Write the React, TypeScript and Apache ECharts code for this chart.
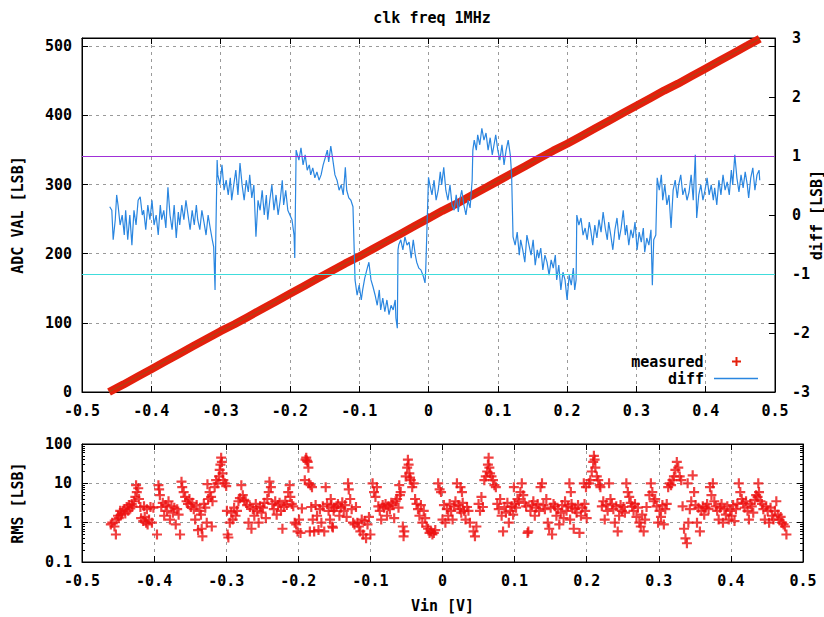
import React, { useEffect, useRef } from "react";
import * as echarts from "echarts";

const FONT = "DejaVu Sans Mono";

const titleText = "clk freq 1MHz";
const vinTicks = { min: -0.5, max: 0.5, step: 0.1 };
const adcRange = { min: 0, max: 512, step: 100 };
const diffRange = { min: -3, max: 3, step: 1 };
const rmsRange = { min: 0.1, max: 100 };
const diffLimits = [1, -1];

// measured ADC code vs Vin
const measuredPoints: [number, number][] = [
  [-0.461, 0], [-0.44, 11], [-0.42, 22], [-0.4, 33], [-0.38, 44], [-0.36, 55], [-0.34, 66],
  [-0.32, 77], [-0.3, 88], [-0.28, 98], [-0.26, 109], [-0.24, 120], [-0.22, 131], [-0.2, 142],
  [-0.18, 153], [-0.16, 164], [-0.14, 175], [-0.12, 186], [-0.1, 196], [-0.08, 207], [-0.06, 218],
  [-0.04, 229], [-0.02, 240], [0, 251], [0.02, 262], [0.04, 272], [0.06, 283], [0.08, 294],
  [0.1, 305], [0.12, 316], [0.14, 327], [0.16, 338], [0.18, 349], [0.2, 359], [0.22, 370],
  [0.24, 381], [0.26, 392], [0.28, 403], [0.3, 414], [0.32, 425], [0.34, 436], [0.36, 446],
  [0.38, 457], [0.4, 468], [0.42, 479], [0.44, 490], [0.46, 501], [0.478, 511],
];

// diff [LSB] vs Vin
const diffPoints: [number, number][] = [
  [-0.46, 0.14], [-0.457, 0.08], [-0.455, -0.42], [-0.452, -0.08], [-0.45, 0.34], [-0.448, 0.17],
  [-0.445, -0.17], [-0.442, 0.0], [-0.439, -0.34], [-0.437, 0.08], [-0.434, -0.42], [-0.431, 0.0],
  [-0.428, -0.51], [-0.425, 0.08], [-0.422, -0.17], [-0.419, 0.25], [-0.416, 0.31], [-0.413, 0.0],
  [-0.411, 0.08], [-0.408, -0.25], [-0.405, 0.17], [-0.402, -0.08], [-0.399, 0.25], [-0.396, -0.17],
  [-0.393, 0.0], [-0.39, -0.34], [-0.387, 0.17], [-0.385, -0.08], [-0.382, 0.08], [-0.379, -0.22],
  [-0.376, 0.47], [-0.373, 0.0], [-0.37, -0.25], [-0.367, 0.17], [-0.364, -0.39], [-0.361, 0.05],
  [-0.359, -0.17], [-0.356, 0.17], [-0.353, -0.08], [-0.35, 0.25], [-0.347, 0.0], [-0.344, -0.25],
  [-0.341, 0.08], [-0.338, -0.17], [-0.335, 0.17], [-0.333, -0.08], [-0.33, -0.25], [-0.327, 0.08],
  [-0.324, -0.12], [-0.321, -0.34], [-0.318, 0.0], [-0.315, -0.22], [-0.312, -0.42], [-0.31, -0.54],
  [-0.308, -1.27], [-0.307, -0.42], [-0.305, 0.93],
  [-0.304, 0.68], [-0.301, 0.51], [-0.298, 0.85], [-0.295, 0.42], [-0.292, 0.59], [-0.289, 0.34],
  [-0.286, 0.63], [-0.284, 0.25], [-0.281, 0.51], [-0.278, 0.76], [-0.275, 0.34], [-0.272, 0.88],
  [-0.269, 0.51], [-0.266, 0.25], [-0.263, 0.59], [-0.26, 0.39], [-0.258, 0.68], [-0.255, 0.29],
  [-0.252, 0.51], [-0.249, -0.37], [-0.246, 0.25], [-0.243, 0.08], [-0.24, 0.42], [-0.237, 0.0],
  [-0.234, 0.34], [-0.232, -0.08], [-0.229, 0.25], [-0.226, 0.51], [-0.223, 0.08], [-0.22, 0.34],
  [-0.217, 0.0], [-0.214, 0.25], [-0.211, 0.59], [-0.209, 0.17], [-0.206, 0.42], [-0.203, 0.08],
  [-0.2, 0.0], [-0.197, -0.08], [-0.194, -0.34], [-0.193, -0.73], [-0.191, 1.1],
  [-0.19, 1.1], [-0.187, 0.93], [-0.184, 1.14], [-0.181, 0.85], [-0.178, 1.02], [-0.175, 0.76],
  [-0.172, 0.85], [-0.17, 0.68], [-0.167, 0.8], [-0.164, 0.63], [-0.161, 0.73], [-0.158, 0.59],
  [-0.155, 0.68], [-0.152, 0.85], [-0.149, 0.97], [-0.146, 1.1], [-0.144, 0.9], [-0.141, 1.17],
  [-0.138, 0.93], [-0.135, 0.68], [-0.132, 0.59], [-0.129, 0.42], [-0.126, 0.51], [-0.123, 0.34],
  [-0.12, 0.81], [-0.118, 0.42], [-0.115, 0.29], [-0.112, 0.25], [-0.109, 0.14],
  [-0.107, -0.68], [-0.106, -1.1], [-0.103, -1.36], [-0.1, -1.19], [-0.097, -1.44], [-0.095, -1.27],
  [-0.092, -1.07], [-0.089, -0.93], [-0.086, -0.8], [-0.083, -1.1], [-0.08, -1.22], [-0.077, -1.36],
  [-0.074, -1.53], [-0.071, -1.27], [-0.069, -1.61], [-0.066, -1.41], [-0.063, -1.64], [-0.06, -1.44],
  [-0.057, -1.69], [-0.054, -1.53], [-0.051, -1.61], [-0.048, -1.44], [-0.047, -1.75], [-0.045, -1.92],
  [-0.044, -0.59],
  [-0.043, -0.51], [-0.04, -0.42], [-0.037, -0.59], [-0.034, -0.37], [-0.031, -0.51], [-0.028, -0.46],
  [-0.025, -0.73], [-0.022, -0.42], [-0.019, -0.68], [-0.017, -0.8], [-0.014, -0.9], [-0.011, -0.93],
  [-0.008, -1.02], [-0.005, -1.15], [-0.004, -0.93],
  [0.0, 0.64], [0.002, 0.51], [0.005, 0.34], [0.008, 0.59], [0.011, 0.25], [0.014, 0.42],
  [0.017, 0.73], [0.019, 0.51], [0.022, 0.81], [0.025, 0.42], [0.028, 0.25], [0.031, 0.51],
  [0.034, 0.17], [0.037, 0.08], [0.04, 0.34], [0.043, 0.05], [0.045, 0.25], [0.048, 0.42],
  [0.051, 0.17], [0.054, 0.0], [0.057, 0.25], [0.06, 0.12], [0.063, 0.59], [0.064, 1.1],
  [0.066, 1.27], [0.069, 1.1], [0.071, 1.36], [0.074, 1.19], [0.077, 1.47], [0.08, 1.27],
  [0.083, 1.39], [0.086, 1.1], [0.089, 1.31], [0.092, 1.02], [0.095, 1.22], [0.097, 1.36],
  [0.1, 1.1], [0.103, 0.93], [0.106, 1.19], [0.109, 0.85], [0.112, 1.1], [0.115, 1.27],
  [0.118, 1.02], [0.119, 0.85], [0.12, 0.64],
  [0.122, -0.37], [0.125, -0.51], [0.128, -0.29], [0.131, -0.68], [0.133, -0.42], [0.136, -0.59],
  [0.139, -0.8], [0.142, -0.34], [0.145, -0.51], [0.148, -0.68], [0.151, -0.42], [0.154, -0.85],
  [0.157, -0.59], [0.159, -0.73], [0.162, -0.56], [0.165, -0.93], [0.168, -0.68], [0.171, -0.8],
  [0.174, -1.02], [0.177, -0.76], [0.18, -0.9], [0.183, -0.68], [0.185, -1.1], [0.188, -0.85],
  [0.191, -1.27], [0.194, -0.97], [0.197, -1.1], [0.2, -1.44], [0.203, -1.02], [0.206, -1.19],
  [0.209, -0.9], [0.211, -1.27], [0.213, -1.1],
  [0.214, 0.0], [0.217, -0.17], [0.22, -0.05], [0.223, -0.34], [0.226, -0.22], [0.229, -0.42],
  [0.232, -0.12], [0.234, -0.25], [0.237, -0.51], [0.24, -0.17], [0.243, -0.39], [0.246, -0.08],
  [0.249, -0.29], [0.252, 0.05], [0.255, -0.22], [0.258, -0.42], [0.26, -0.12], [0.263, -0.34],
  [0.266, -0.59], [0.269, -0.25], [0.272, -0.05], [0.275, -0.42], [0.278, -0.22], [0.281, 0.08],
  [0.284, -0.34], [0.286, -0.17], [0.289, -0.51], [0.292, -0.25], [0.295, -0.39], [0.298, -0.12],
  [0.301, -0.59], [0.304, -0.29], [0.307, -0.46], [0.31, -0.22], [0.312, -0.63], [0.315, -0.39],
  [0.318, -0.51], [0.321, -0.25], [0.323, -1.19], [0.325, -0.42], [0.328, -0.34],
  [0.33, 0.63], [0.333, 0.42], [0.336, 0.68], [0.338, 0.25], [0.341, 0.51], [0.344, 0.17],
  [0.347, 0.34], [0.35, -0.22], [0.353, 0.42], [0.356, 0.59], [0.359, 0.29], [0.361, 0.51],
  [0.364, 0.68], [0.367, 0.34], [0.37, 0.46], [0.373, 0.25], [0.376, 0.39], [0.379, 0.68],
  [0.382, 0.25], [0.385, 1.02], [0.387, -0.05], [0.39, 0.34], [0.393, 0.51], [0.396, 0.25],
  [0.399, 0.42], [0.402, 0.63], [0.405, 0.34], [0.408, 0.51], [0.411, 0.25], [0.413, 0.46],
  [0.416, 0.17], [0.419, 0.59], [0.422, 0.34], [0.425, 0.68], [0.428, 0.42], [0.431, 0.56],
  [0.434, 0.34], [0.437, 0.76], [0.439, 0.51], [0.442, 1.02], [0.445, 0.63], [0.448, 0.39],
  [0.451, 0.68], [0.454, 0.46], [0.457, 0.73], [0.46, 0.51], [0.462, 0.29], [0.465, 0.63],
  [0.468, 0.8], [0.471, 0.42], [0.474, 0.68], [0.477, 0.76], [0.478, 0.59],
];

// RMS [LSB] vs Vin
const rmsPoints: [number, number][] = [
  [-0.46, 0.9], [-0.458, 1.0], [-0.455, 0.8], [-0.453, 0.5], [-0.452, 1.2], [-0.45, 1.5],
  [-0.449, 1.3], [-0.447, 2.0], [-0.446, 1.6], [-0.444, 1.8], [-0.442, 2.2], [-0.44, 1.7],
  [-0.438, 2.5], [-0.436, 2.0], [-0.435, 2.8], [-0.433, 2.3], [-0.431, 3.0], [-0.43, 2.6],
  [-0.428, 3.5], [-0.426, 4.5], [-0.425, 9], [-0.424, 6], [-0.422, 7.5], [-0.421, 4], [-0.419, 2.5],
  [-0.418, 1.3], [-0.415, 1.1], [-0.414, 2.6], [-0.413, 1.4], [-0.411, 1.0], [-0.41, 2.2],
  [-0.409, 0.9], [-0.407, 1.2], [-0.405, 2.5], [-0.403, 1.0], [-0.401, 2.4], [-0.396, 0.5],
  [-0.394, 9], [-0.393, 7], [-0.392, 5], [-0.39, 2.5], [-0.388, 3.2], [-0.386, 1.5], [-0.384, 2.8],
  [-0.382, 2.0], [-0.38, 3.5], [-0.378, 1.2], [-0.376, 2.6], [-0.374, 1.8], [-0.372, 2.4],
  [-0.37, 0.9], [-0.368, 2.2], [-0.366, 1.6], [-0.364, 0.5], [-0.362, 11], [-0.361, 8], [-0.359, 6],
  [-0.357, 4.5], [-0.355, 3.5], [-0.353, 3], [-0.351, 4], [-0.349, 2.5], [-0.347, 3.2],
  [-0.345, 2.2], [-0.343, 1.2], [-0.341, 2.8], [-0.339, 0.65], [-0.337, 2.0], [-0.335, 1.6],
  [-0.334, 0.7], [-0.333, 0.45], [-0.331, 3.0], [-0.329, 2.4], [-0.327, 1.0], [-0.326, 9.5],
  [-0.325, 4.0], [-0.323, 6], [-0.321, 4.5], [-0.32, 0.8], [-0.319, 3.5], [-0.316, 8], [-0.314, 12],
  [-0.312, 10], [-0.31, 15], [-0.309, 22], [-0.308, 30], [-0.307, 45], [-0.306, 35], [-0.305, 18],
  [-0.304, 12], [-0.302, 10], [-0.3, 8.5], [-0.299, 2.0], [-0.298, 0.5], [-0.297, 0.42],
  [-0.295, 1.0], [-0.293, 1.8], [-0.291, 1.2], [-0.289, 2.4], [-0.287, 1.5], [-0.285, 2.0],
  [-0.283, 3.5], [-0.281, 4.2], [-0.279, 9], [-0.277, 5], [-0.275, 3.8], [-0.273, 3.5], [-0.271, 2.8],
  [-0.269, 1.0], [-0.267, 2.5], [-0.265, 0.7], [-0.263, 2.2], [-0.261, 1.5], [-0.259, 3.0],
  [-0.257, 2.0], [-0.255, 1.0], [-0.253, 2.6], [-0.251, 1.8], [-0.249, 2.4], [-0.247, 3.2],
  [-0.245, 1.3], [-0.243, 4.0], [-0.241, 6], [-0.24, 11], [-0.238, 8], [-0.236, 3.0], [-0.234, 2.2],
  [-0.232, 3.5], [-0.23, 1.6], [-0.228, 2.8], [-0.226, 3.2], [-0.224, 2.0], [-0.222, 0.7],
  [-0.22, 2.5], [-0.218, 3.6], [-0.216, 2.8], [-0.214, 6], [-0.212, 9], [-0.211, 4.5], [-0.209, 3.0],
  [-0.207, 2.6], [-0.205, 1.0], [-0.203, 0.9], [-0.201, 0.6], [-0.199, 1.2], [-0.197, 0.55],
  [-0.195, 2.3], [-0.191, 12], [-0.19, 40], [-0.189, 45], [-0.188, 38], [-0.187, 35], [-0.186, 25],
  [-0.185, 10], [-0.184, 0.6], [-0.183, 9], [-0.182, 2.5], [-0.181, 8], [-0.18, 1.2], [-0.178, 0.6],
  [-0.176, 2.8], [-0.174, 1.5], [-0.172, 0.65], [-0.17, 2.2], [-0.168, 1.0], [-0.166, 2.6],
  [-0.164, 0.6], [-0.162, 8], [-0.16, 3.0], [-0.158, 2.0], [-0.156, 1.2], [-0.155, 4], [-0.154, 2.8],
  [-0.153, 0.8], [-0.152, 0.75], [-0.151, 2.0], [-0.15, 2.4], [-0.147, 2.6], [-0.145, 3.0],
  [-0.143, 1.5], [-0.141, 2.4], [-0.139, 3.3], [-0.137, 2.0], [-0.135, 2.8], [-0.133, 1.4],
  [-0.131, 10], [-0.13, 7], [-0.128, 4], [-0.126, 2.2], [-0.124, 1.0], [-0.122, 0.9], [-0.12, 2.5],
  [-0.118, 1.0], [-0.116, 0.8], [-0.114, 0.6], [-0.112, 1.2], [-0.11, 0.5], [-0.108, 1.1],
  [-0.106, 0.4], [-0.104, 0.9], [-0.102, 1.4], [-0.1, 0.5], [-0.097, 10], [-0.095, 6], [-0.093, 4.5],
  [-0.091, 8], [-0.089, 2.6], [-0.087, 2.0], [-0.085, 1.2], [-0.083, 2.8], [-0.081, 2.4],
  [-0.079, 3.0], [-0.077, 1.5], [-0.075, 2.6], [-0.073, 2.2], [-0.071, 3.2], [-0.069, 2.8],
  [-0.067, 1.3], [-0.065, 3.5], [-0.063, 4.0], [-0.061, 2.4], [-0.06, 9], [-0.059, 5], [-0.058, 6],
  [-0.055, 0.8], [-0.054, 0.45], [-0.053, 0.6], [-0.051, 15], [-0.049, 25], [-0.048, 40],
  [-0.047, 30], [-0.046, 18], [-0.045, 14], [-0.044, 12], [-0.042, 8], [-0.04, 10], [-0.038, 4],
  [-0.036, 3], [-0.034, 2.2], [-0.032, 1.5], [-0.03, 2.8], [-0.028, 1.0], [-0.026, 2.0],
  [-0.024, 1.3], [-0.022, 0.8], [-0.02, 0.7], [-0.018, 0.55], [-0.016, 0.6], [-0.014, 0.5],
  [-0.012, 0.55], [-0.01, 0.65], [-0.006, 10], [-0.004, 7], [-0.002, 6], [0.0, 1.2], [0.002, 2.8],
  [0.004, 1.0], [0.006, 2.2], [0.008, 1.5], [0.01, 3.0], [0.012, 2.0], [0.014, 1.2], [0.016, 2.6],
  [0.018, 3.5], [0.02, 10], [0.022, 2.8], [0.024, 2.2], [0.025, 8], [0.026, 1.8], [0.027, 6],
  [0.028, 3.2], [0.03, 2.0], [0.032, 1.2], [0.034, 2.5], [0.036, 2.0], [0.038, 1.0], [0.043, 0.6],
  [0.045, 0.45], [0.047, 0.8], [0.05, 3.0], [0.052, 2.0], [0.054, 4.5], [0.056, 2.5], [0.058, 12],
  [0.06, 15], [0.062, 20], [0.063, 30], [0.064, 45], [0.065, 25], [0.066, 18], [0.068, 15],
  [0.07, 12], [0.072, 9], [0.074, 8], [0.076, 3.0], [0.078, 2.2], [0.08, 4.0], [0.082, 1.5],
  [0.084, 0.6], [0.086, 2.5], [0.088, 1.8], [0.09, 3.2], [0.092, 1.0], [0.094, 2.0], [0.096, 2.6],
  [0.098, 1.6], [0.099, 8], [0.1, 3.0], [0.102, 2.4], [0.104, 4], [0.106, 3.5], [0.108, 6],
  [0.11, 10], [0.112, 5], [0.114, 3.2], [0.116, 2.6], [0.118, 0.55], [0.119, 0.6], [0.122, 2.0],
  [0.124, 2.8], [0.126, 3.5], [0.128, 1.5], [0.13, 2.4], [0.132, 3.0], [0.134, 2.0], [0.136, 8],
  [0.138, 10], [0.14, 2.8], [0.142, 2.2], [0.144, 4], [0.146, 1.0], [0.148, 0.7], [0.15, 2.4],
  [0.152, 0.5], [0.154, 3.0], [0.156, 2.6], [0.158, 1.5], [0.16, 2.2], [0.162, 0.9], [0.164, 1.8],
  [0.166, 2.8], [0.168, 1.3], [0.17, 3.5], [0.172, 2.0], [0.174, 2.6], [0.176, 10], [0.177, 1.2],
  [0.178, 6], [0.179, 3.0], [0.18, 2.4], [0.182, 0.7], [0.184, 2.2], [0.186, 1.8], [0.188, 2.8],
  [0.19, 0.55], [0.192, 1.5], [0.194, 2.4], [0.196, 10], [0.197, 3.0], [0.198, 2.0], [0.199, 8],
  [0.2, 1.3], [0.203, 10], [0.205, 12], [0.207, 20], [0.209, 35], [0.21, 50], [0.211, 40],
  [0.212, 25], [0.214, 15], [0.216, 12], [0.218, 9], [0.219, 8], [0.221, 2.6], [0.223, 3.5],
  [0.225, 1.2], [0.227, 2.8], [0.229, 2.0], [0.231, 10], [0.233, 4], [0.235, 3.0], [0.237, 2.2],
  [0.239, 1.0], [0.241, 2.6], [0.243, 0.6], [0.245, 1.5], [0.247, 2.8], [0.249, 2.0], [0.251, 2.5],
  [0.253, 1.8], [0.255, 10], [0.257, 6], [0.259, 4.5], [0.261, 3.2], [0.263, 2.6], [0.265, 2.0],
  [0.267, 3.0], [0.269, 1.4], [0.271, 2.4], [0.273, 1.0], [0.275, 0.8], [0.277, 1.6], [0.279, 0.6],
  [0.281, 1.2], [0.283, 2.5], [0.287, 5], [0.289, 10], [0.291, 6], [0.293, 3.5], [0.295, 4],
  [0.297, 2.6], [0.299, 1.0], [0.301, 2.0], [0.303, 1.4], [0.305, 2.8], [0.307, 0.9], [0.309, 2.2],
  [0.311, 3.0], [0.313, 8], [0.315, 10], [0.317, 9], [0.319, 12], [0.321, 15], [0.323, 22],
  [0.325, 35], [0.327, 25], [0.329, 15], [0.331, 12], [0.333, 2.6], [0.335, 0.7], [0.337, 0.4],
  [0.339, 0.3], [0.34, 10], [0.341, 1.0], [0.343, 2.2], [0.345, 3.5], [0.347, 16], [0.349, 6],
  [0.351, 2.8], [0.353, 1.0], [0.355, 2.4], [0.357, 0.6], [0.359, 2.0], [0.361, 2.6], [0.363, 1.6],
  [0.365, 2.4], [0.367, 3.0], [0.369, 2.2], [0.371, 8], [0.373, 5], [0.375, 10], [0.377, 3.5],
  [0.379, 2.6], [0.381, 2.0], [0.383, 1.2], [0.385, 2.4], [0.387, 3.0], [0.389, 1.0], [0.391, 2.2],
  [0.393, 1.6], [0.395, 2.6], [0.397, 1.2], [0.399, 2.0], [0.401, 1.5], [0.403, 2.8], [0.405, 1.1],
  [0.407, 2.2], [0.409, 3.0], [0.411, 10], [0.413, 6], [0.415, 4], [0.417, 3.2], [0.419, 2.4],
  [0.421, 3.5], [0.423, 2.0], [0.425, 1.2], [0.427, 3.0], [0.429, 2.6], [0.431, 1.8], [0.433, 3.8],
  [0.435, 5], [0.437, 4.5], [0.438, 10], [0.439, 6], [0.441, 3.5], [0.443, 3.0], [0.445, 2.2],
  [0.447, 1.2], [0.449, 2.6], [0.451, 2.0], [0.453, 1.0], [0.455, 2.4], [0.457, 1.5], [0.459, 1.2],
  [0.461, 2.0], [0.463, 3.5], [0.465, 1.6], [0.467, 1.2], [0.469, 1.4], [0.471, 1.0], [0.473, 0.9],
  [0.475, 0.8], [0.477, 0.5],
];

const PLUS = "path://M3.9,0H6.1V3.9H10V6.1H6.1V10H3.9V6.1H0V3.9H3.9Z";

const labelStyle = {
  color: "#000",
  fontFamily: FONT,
  fontWeight: "bold" as const,
  fontSize: 15,
};

const gridLine = {
  show: true,
  lineStyle: { color: "#9a9a9a", type: [3, 4] as number[], width: 1 },
};

const fmtVin = (v: number) => String(Number(v.toFixed(1)));

const axisLineBlack = { show: true, onZero: false, lineStyle: { color: "#000", width: 1 } };
const tickIn = (length: number) => ({ show: true, inside: true, length, lineStyle: { color: "#000" } });

export default function App() {
  const ref = useRef<HTMLDivElement>(null);

  useEffect(() => {
    if (!ref.current) return;
    const chart = echarts.init(ref.current, undefined, { renderer: "svg" });

    const minorLog: number[] = [];
    for (let d = -1; d < 2; d++) {
      for (let k = 2; k <= 9; k++) minorLog.push(d + Math.log10(k));
    }

    const xBase = (gridIndex: number, position: "bottom" | "top", labels: boolean) => ({
      type: "value",
      gridIndex,
      position,
      min: vinTicks.min,
      max: vinTicks.max,
      interval: vinTicks.step,
      axisLine: axisLineBlack,
      axisTick: tickIn(6),
      axisLabel: {
        show: labels,
        margin: 11,
        formatter: fmtVin,
        ...labelStyle,
      },
      splitLine: labels ? gridLine : { show: false },
    });

    const option: any = {
      animation: false,
      backgroundColor: "#fff",
      title: {
        text: titleText,
        left: 427,
        top: 5,
        textAlign: "center",
        textStyle: { ...labelStyle },
      },
      legend: [
        {
          data: [{ name: "measured", icon: PLUS }],
          right: 78,
          top: 349,
          align: "right",
          itemWidth: 44,
          itemHeight: 9,
          selectedMode: false,
          itemStyle: { borderWidth: 0 },
          textStyle: { ...labelStyle, padding: [0, 6, 0, 0] },
        },
        {
          data: [{ name: "diff", icon: "rect" }],
          right: 61,
          top: 366,
          align: "right",
          itemWidth: 44,
          itemHeight: 1.5,
          selectedMode: false,
          itemStyle: { borderWidth: 0 },
          textStyle: { ...labelStyle, padding: [0, 5, 0, 0] },
        },
      ],
      grid: [
        { left: 82, top: 38, width: 693, height: 354, show: true, borderColor: "#000", borderWidth: 1, backgroundColor: "transparent", outerBoundsMode: "none", containLabel: false },
        { left: 82, top: 444, width: 721, height: 118, show: true, borderColor: "#000", borderWidth: 1, backgroundColor: "transparent", outerBoundsMode: "none", containLabel: false },
      ],
      xAxis: [
        xBase(0, "bottom", true),
        xBase(0, "top", false),
        {
          ...xBase(1, "bottom", true),
          name: "Vin [V]",
          nameLocation: "middle",
          nameGap: 36,
          nameMoveOverlap: false,
          nameTextStyle: { ...labelStyle },
        },
        xBase(1, "top", false),
      ],
      yAxis: [
        {
          type: "value",
          gridIndex: 0,
          position: "left",
          min: adcRange.min,
          max: adcRange.max,
          interval: adcRange.step,
          name: "ADC VAL [LSB]",
          nameLocation: "middle",
          nameGap: 57,
          nameRotate: 90,
          nameMoveOverlap: false,
          nameTextStyle: { ...labelStyle },
          axisLine: axisLineBlack,
          axisTick: tickIn(6),
          axisLabel: { ...labelStyle, margin: 10, showMaxLabel: false },
          splitLine: gridLine,
        },
        {
          type: "value",
          gridIndex: 0,
          position: "right",
          min: diffRange.min,
          max: diffRange.max,
          interval: diffRange.step,
          name: "diff [LSB]",
          nameLocation: "middle",
          nameGap: 34,
          nameRotate: 90,
          nameMoveOverlap: false,
          nameTextStyle: { ...labelStyle },
          axisLine: axisLineBlack,
          axisTick: tickIn(6),
          axisLabel: { ...labelStyle, margin: 17 },
          splitLine: { show: false },
        },
        {
          type: "value",
          gridIndex: 0,
          position: "right",
          min: adcRange.min,
          max: adcRange.max,
          interval: adcRange.step,
          axisLine: { show: false, onZero: false },
          axisTick: tickIn(6),
          axisLabel: { show: false },
          splitLine: { show: false },
        },
        {
          type: "log",
          logBase: 10,
          gridIndex: 1,
          position: "left",
          min: rmsRange.min,
          max: rmsRange.max,
          name: "RMS [LSB]",
          nameLocation: "middle",
          nameGap: 57,
          nameRotate: 90,
          nameMoveOverlap: false,
          nameTextStyle: { ...labelStyle },
          axisLine: axisLineBlack,
          axisTick: tickIn(6),
          axisLabel: { ...labelStyle, margin: 10 },
          splitLine: gridLine,
        },
        {
          type: "log",
          logBase: 10,
          gridIndex: 1,
          position: "right",
          min: rmsRange.min,
          max: rmsRange.max,
          axisLine: axisLineBlack,
          axisTick: tickIn(6),
          axisLabel: { show: false },
          splitLine: { show: false },
        },
        {
          type: "value",
          gridIndex: 1,
          position: "left",
          min: -1,
          max: 2,
          interval: 1,
          axisLine: { show: false, onZero: false },
          axisTick: { ...tickIn(3), customValues: minorLog },
          axisLabel: { show: false },
          splitLine: { show: false },
        },
        {
          type: "value",
          gridIndex: 1,
          position: "right",
          min: -1,
          max: 2,
          interval: 1,
          axisLine: { show: false, onZero: false },
          axisTick: { ...tickIn(3), customValues: minorLog },
          axisLabel: { show: false },
          splitLine: { show: false },
        },
      ],
      series: [
        {
          name: "measured",
          type: "line",
          xAxisIndex: 0,
          yAxisIndex: 0,
          data: measuredPoints,
          symbol: "none",
          color: "#e4200c",
          lineStyle: { color: "#e4200c", width: 8 },
          z: 2,
        },
        {
          name: "measured core",
          type: "line",
          xAxisIndex: 0,
          yAxisIndex: 0,
          data: measuredPoints,
          symbol: "none",
          lineStyle: { color: "#8f5a1a", width: 1, opacity: 0.8 },
          z: 3,
          silent: true,
        },
        {
          name: "diff",
          type: "line",
          xAxisIndex: 0,
          yAxisIndex: 1,
          data: diffPoints,
          symbol: "none",
          color: "#2a86e0",
          lineStyle: { color: "#2a86e0", width: 1.2 },
          z: 4,
          markLine: {
            silent: true,
            symbol: ["none", "none"],
            label: { show: false },
            z: 5,
            data: [
              { yAxis: diffLimits[0], lineStyle: { color: "#a030d8", width: 1.2, type: "solid" } },
              { yAxis: diffLimits[1], lineStyle: { color: "#40dcdc", width: 1.2, type: "solid" } },
            ],
          },
        },
        {
          name: "RMS",
          type: "scatter",
          xAxisIndex: 2,
          yAxisIndex: 3,
          data: rmsPoints,
          symbol: PLUS,
          symbolSize: 10,
          itemStyle: { color: "#ec1010" },
          z: 3,
        },
      ],
    };

    chart.setOption(option);
    return () => chart.dispose();
  }, []);

  return (
    <div
      ref={ref}
      style={{ position: "absolute", left: 0, top: 0, width: 824, height: 617 }}
    />
  );
}
